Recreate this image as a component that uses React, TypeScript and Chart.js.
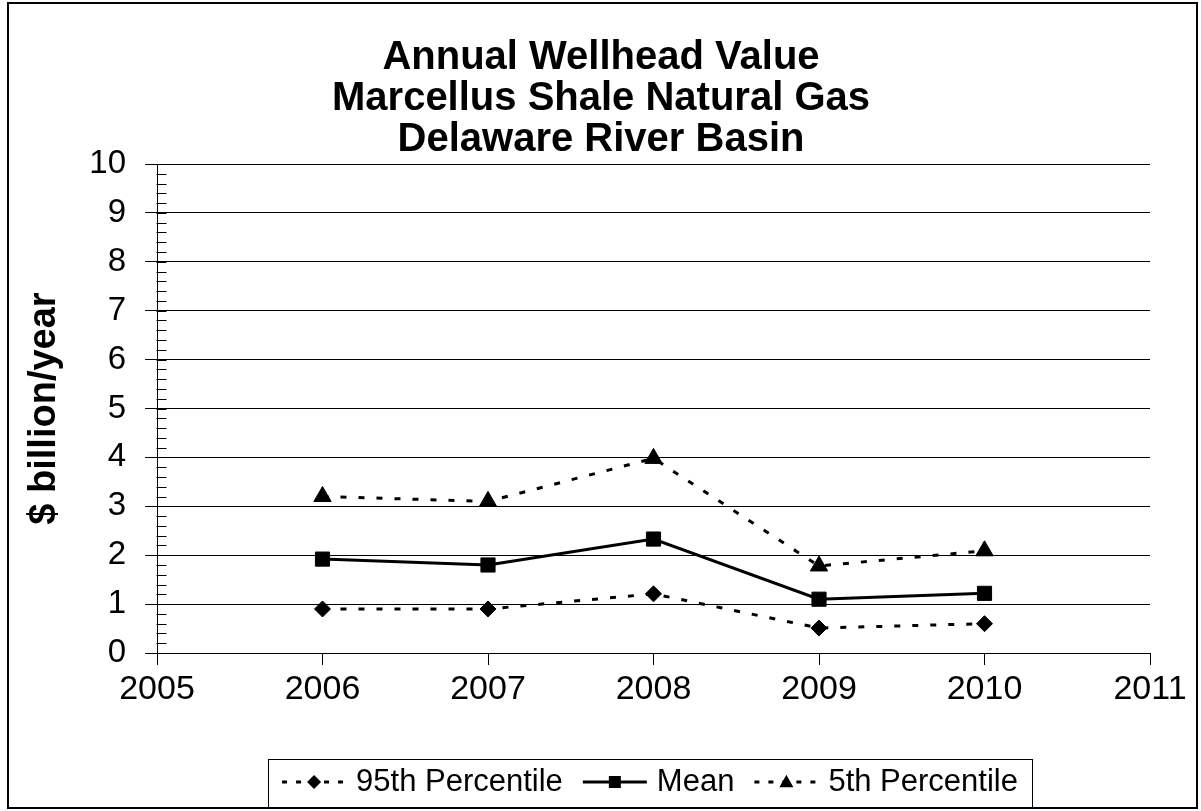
import React, { useEffect, useRef } from 'react';
import { Chart, registerables } from 'chart.js';

Chart.register(...registerables);

const FONT = "'Liberation Sans', Arial, Helvetica, sans-serif";

const titleLines = ['Annual Wellhead Value', 'Marcellus Shale Natural Gas', 'Delaware River Basin'];
const yAxisTitle = '$ billion/year';
const years = [2006, 2007, 2008, 2009, 2010];
const p95Values = [0.9, 0.9, 1.21, 0.51, 0.6];
const meanValues = [1.92, 1.8, 2.33, 1.1, 1.22];
const p5Values = [3.2, 3.1, 3.98, 1.78, 2.09];
const seriesNames = ['95th Percentile', 'Mean', '5th Percentile'];
const xMin = 2005;
const xMax = 2011;
const yMin = 0;
const yMax = 10;

const toPoints = (vals: number[]) => years.map((yr, i) => ({ x: yr, y: vals[i] }));

function drawMarker(ctx: CanvasRenderingContext2D, style: string, x: number, y: number, r: number) {
  ctx.beginPath();
  if (style === 'rect') {
    ctx.rect(x - r, y - r, 2 * r, 2 * r);
  } else if (style === 'rectRot') {
    ctx.moveTo(x, y - r);
    ctx.lineTo(x + r, y);
    ctx.lineTo(x, y + r);
    ctx.lineTo(x - r, y);
    ctx.closePath();
  } else {
    const h = r * 1.8;
    ctx.moveTo(x, y - h / 2 - 1);
    ctx.lineTo(x + r, y + h / 2 - 1);
    ctx.lineTo(x - r, y + h / 2 - 1);
    ctx.closePath();
  }
  ctx.fillStyle = '#000';
  ctx.fill();
}

const decorPlugin = {
  id: 'decor',
  afterDraw(chart: any) {
    const ctx: CanvasRenderingContext2D = chart.ctx;
    const ys = chart.scales.y;
    ctx.save();
    // outer frame
    ctx.strokeStyle = '#000';
    ctx.lineWidth = 2;
    ctx.strokeRect(8, 3, 1189, 805);
    // minor ticks on the y axis (inside)
    ctx.lineWidth = 1;
    const ax = Math.round(ys.right) + 0.5;
    ctx.beginPath();
    for (let k = 0; k <= (yMax - yMin) * 5; k++) {
      const v = yMin + k * 0.2;
      const py = Math.round(ys.getPixelForValue(v)) + 0.5;
      ctx.moveTo(ax - 1, py);
      ctx.lineTo(ax + 9, py);
    }
    ctx.stroke();

    // legend
    const boxL = 268, boxR = 1032, boxT = 759, boxB = 807;
    ctx.lineWidth = 1;
    ctx.strokeRect(boxL + 0.5, boxT + 0.5, boxR - boxL, boxB - boxT);
    ctx.font = `31px ${FONT}`;
    ctx.textBaseline = 'middle';
    ctx.textAlign = 'left';
    const cy = 782;
    const sampleW = 64;
    const gapText = 10;
    const gapItem = 20;
    const widths = chart.data.datasets.map((d: any) => ctx.measureText(d.label).width);
    const total = widths.reduce((a: number, b: number) => a + b, 0) + chart.data.datasets.length * (sampleW + gapText) + gapItem * (chart.data.datasets.length - 1);
    let xpos = (boxL + boxR) / 2 - total / 2;
    chart.data.datasets.forEach((d: any, i: number) => {
      ctx.save();
      ctx.strokeStyle = '#000';
      ctx.lineWidth = 3;
      ctx.setLineDash(d.borderDash && d.borderDash.length ? [5, 9] : []);
      ctx.beginPath();
      ctx.moveTo(xpos, cy);
      ctx.lineTo(xpos + sampleW, cy);
      ctx.stroke();
      ctx.restore();
      const ms = d.pointStyle === 'rect' ? 6 : 7;
      drawMarker(ctx, d.pointStyle, xpos + sampleW / 2, cy, ms);
      ctx.fillStyle = '#000';
      ctx.fillText(d.label, xpos + sampleW + gapText, cy);
      xpos += sampleW + gapText + widths[i] + gapItem;
    });
    ctx.restore();
  },
};

export default function App() {
  const canvasRef = useRef<HTMLCanvasElement | null>(null);

  useEffect(() => {
    if (!canvasRef.current) return;
    Chart.defaults.font.family = FONT;
    Chart.defaults.color = '#000';
    const dashed = [6, 12];
    const chart = new Chart(canvasRef.current, {
      type: 'line',
      data: {
        datasets: [
          {
            label: seriesNames[0],
            data: toPoints(p95Values),
            borderColor: '#000',
            backgroundColor: '#000',
            borderWidth: 3,
            borderDash: dashed,
            pointStyle: 'rectRot',
            pointRadius: 8,
            pointBorderWidth: 1,
            pointBackgroundColor: '#000',
            pointBorderColor: '#000',
            tension: 0,
          },
          {
            label: seriesNames[1],
            data: toPoints(meanValues),
            borderColor: '#000',
            backgroundColor: '#000',
            borderWidth: 3,
            borderDash: [],
            pointStyle: 'rect',
            pointRadius: 10,
            pointBorderWidth: 1,
            pointBackgroundColor: '#000',
            pointBorderColor: '#000',
            tension: 0,
          },
          {
            label: seriesNames[2],
            data: toPoints(p5Values),
            borderColor: '#000',
            backgroundColor: '#000',
            borderWidth: 3,
            borderDash: dashed,
            pointStyle: 'triangle',
            pointRadius: 10,
            pointBorderWidth: 1,
            pointBackgroundColor: '#000',
            pointBorderColor: '#000',
            tension: 0,
          },
        ],
      },
      options: {
        responsive: false,
        animation: false,
        events: [],
        layout: { padding: { left: 26, right: 25, top: 0, bottom: 0 } },
        plugins: {
          legend: { display: false },
          tooltip: { enabled: false },
          title: {
            display: true,
            text: titleLines,
            color: '#000',
            font: { family: FONT, size: 40, weight: 'bold', lineHeight: 41 / 40 },
            padding: { top: 37, bottom: 4 },
          },
        },
        scales: {
          x: {
            type: 'linear',
            min: xMin,
            max: xMax,
            ticks: {
              stepSize: 1,
              color: '#000',
              font: { family: FONT, size: 34 },
              padding: 4,
              maxRotation: 0,
              callback: (v: any) => String(v),
            },
            grid: { drawOnChartArea: false, drawTicks: true, tickLength: 12, color: '#000', lineWidth: 1 },
            border: { display: true, color: '#000', width: 1 },
            afterFit: (s: any) => {
              s.height = 158;
            },
          },
          y: {
            type: 'linear',
            min: yMin,
            max: yMax,
            ticks: {
              stepSize: 1,
              color: '#000',
              font: { family: FONT, size: 33 },
              padding: 19,
            },
            grid: { drawTicks: true, tickLength: 12, color: '#000', lineWidth: 1 },
            border: { display: true, color: '#000', width: 1 },
            title: {
              display: true,
              text: yAxisTitle,
              color: '#000',
              font: { family: FONT, size: 38, weight: 'bold', lineHeight: 1.0 },
              padding: { top: 0, bottom: 0 },
            },
            afterFit: (s: any) => {
              s.width = 131;
            },
          },
          yRight: {
            type: 'linear',
            position: 'right',
            display: true,
            min: yMin,
            max: yMax,
            ticks: { display: false },
            grid: { display: false, drawOnChartArea: false, drawTicks: false },
            border: { display: false },
            afterFit: (s: any) => {
              s.width = 26;
            },
          },
        },
      } as any,
      plugins: [decorPlugin],
    });
    return () => chart.destroy();
  }, []);

  return (
    <div style={{ position: 'absolute', left: 0, top: 0, width: 1201, height: 811, background: '#fff' }}>
      <canvas ref={canvasRef} width={1201} height={811} style={{ display: 'block', width: 1201, height: 811 }} />
    </div>
  );
}
